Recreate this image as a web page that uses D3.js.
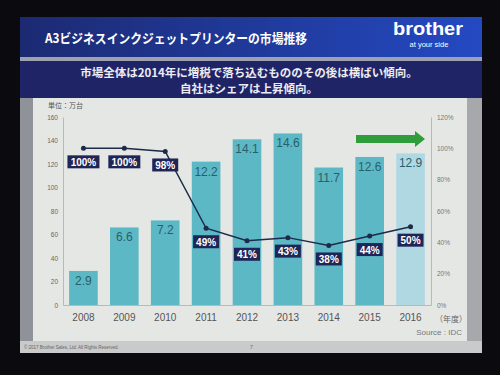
<!DOCTYPE html>
<html>
<head>
<meta charset="utf-8">
<script src="https://cdn.jsdelivr.net/npm/d3@7"></script>
<style>
  body { margin: 0; background: #0b0b0f; }
  svg { display: block; }
  text { font-family: "Liberation Sans", "Noto Sans CJK JP", sans-serif; }
  .jp { font-family: "Noto Sans CJK JP", sans-serif; }
</style>
</head>
<body>
<svg id="chart"></svg>
<script>
const width = 500;
const height = 375;

// data
const years = ["2008", "2009", "2010", "2011", "2012", "2013", "2014", "2015", "2016"];
const units = [2.9, 6.6, 7.2, 12.2, 14.1, 14.6, 11.7, 12.6, 12.9]; // 10万台
const share = [100, 100, 98, 49, 41, 43, 38, 44, 50]; // %
const leftTicks = [0, 20, 40, 60, 80, 100, 120, 140, 160];
const rightTicks = [0, 20, 40, 60, 80, 100, 120];

const svg = d3.select("#chart")
  .attr("width", width)
  .attr("height", height);

// slide background pieces
const defs = svg.append("defs");
const grad = defs.append("linearGradient").attr("id", "titleGrad");
grad.append("stop").attr("offset", "0%").attr("stop-color", "#1c2a72");
grad.append("stop").attr("offset", "100%").attr("stop-color", "#2449c2");

svg.append("rect").attr("x", 20).attr("y", 17).attr("width", 462).attr("height", 40).attr("fill", "url(#titleGrad)");
svg.append("rect").attr("x", 20).attr("y", 57).attr("width", 462).attr("height", 4).attr("fill", "#9ea2b0");
svg.append("rect").attr("x", 20).attr("y", 61).attr("width", 462).attr("height", 37).attr("fill", "#1f2466");
svg.append("rect").attr("x", 20).attr("y", 98).attr("width", 13).attr("height", 243).attr("fill", "#8f9298");
svg.append("rect").attr("x", 33).attr("y", 98).attr("width", 434).attr("height", 243).attr("fill", "#e5e7e5");
svg.append("rect").attr("x", 467).attr("y", 98).attr("width", 15).attr("height", 243).attr("fill", "#a6a8ac");
svg.append("rect").attr("x", 20).attr("y", 341).attr("width", 462).attr("height", 12).attr("fill", "#c8cacb");

// titles
svg.append("text").attr("class", "jp")
  .attr("x", 45).attr("y", 43)
  .attr("fill", "#ffffff").attr("font-size", 13).attr("font-weight", "bold")
  .attr("textLength", 262).attr("lengthAdjust", "spacingAndGlyphs")
  .text("A3ビジネスインクジェットプリンターの市場推移");

svg.append("text")
  .attr("x", 428).attr("y", 35).attr("text-anchor", "middle")
  .attr("fill", "#ffffff").attr("font-size", 19).attr("font-weight", "bold")
  .attr("font-family", "DejaVu Sans")
  .attr("textLength", 70).attr("lengthAdjust", "spacingAndGlyphs")
  .text("brother");
svg.append("text")
  .attr("x", 429).attr("y", 47).attr("text-anchor", "middle")
  .attr("fill", "#ffffff").attr("font-size", 7.5)
  .text("at your side");

svg.append("text").attr("class", "jp")
  .attr("x", 249).attr("y", 77).attr("text-anchor", "middle")
  .attr("fill", "#ececf2").attr("font-size", 11.5).attr("font-weight", "bold")
  .text("市場全体は2014年に増税で落ち込むもののその後は横ばい傾向。");
svg.append("text").attr("class", "jp")
  .attr("x", 249).attr("y", 93).attr("text-anchor", "middle")
  .attr("fill", "#ececf2").attr("font-size", 11.5).attr("font-weight", "bold")
  .text("自社はシェアは上昇傾向。");

// scales
const x = d3.scaleBand()
  .domain(years)
  .range([63, 431])
  .paddingInner(0.3)
  .paddingOuter(0.15);

const yLeft = d3.scaleLinear().domain([0, 160]).range([305, 117]);
const yRight = d3.scaleLinear().domain([0, 120]).range([305, 117]);

// axes
const leftAxis = svg.append("g")
  .attr("transform", "translate(63,0)")
  .call(d3.axisLeft(yLeft).tickValues(leftTicks).tickSize(0).tickPadding(5));
leftAxis.select(".domain").attr("stroke", "#b8bab8");
leftAxis.selectAll("text").attr("fill", "#666").attr("font-size", 6.5);

const rightAxis = svg.append("g")
  .attr("transform", "translate(431,0)")
  .call(d3.axisRight(yRight).tickValues(rightTicks).tickSize(0).tickPadding(6).tickFormat(d => d + "%"));
rightAxis.select(".domain").attr("stroke", "#b8bab8");
rightAxis.selectAll("text").attr("fill", "#777").attr("font-size", 6.5);

const bottomAxis = svg.append("g")
  .attr("transform", "translate(0,305)")
  .call(d3.axisBottom(x).tickSize(0).tickPadding(9));
bottomAxis.select(".domain").attr("stroke", "#b8bab8");
bottomAxis.selectAll("text").attr("fill", "#555").attr("font-size", 10);

svg.append("text").attr("class", "jp")
  .attr("x", 48).attr("y", 108)
  .attr("fill", "#555").attr("font-size", 7)
  .text("単位：万台");

svg.append("text").attr("class", "jp")
  .attr("x", 451).attr("y", 322).attr("text-anchor", "middle")
  .attr("fill", "#666").attr("font-size", 8)
  .text("（年度）");

svg.append("text")
  .attr("x", 462).attr("y", 335).attr("text-anchor", "end")
  .attr("fill", "#777").attr("font-size", 8)
  .text("Source : IDC");

// bars
svg.append("g")
  .selectAll("rect")
  .data(units)
  .enter().append("rect")
  .attr("x", (d, i) => x(years[i]))
  .attr("y", d => yLeft(d * 10))
  .attr("width", x.bandwidth())
  .attr("height", d => yLeft(0) - yLeft(d * 10))
  .attr("fill", (d, i) => i === years.length - 1 ? "#b0d8e2" : "#5cb8c4");

svg.append("g")
  .selectAll("text")
  .data(units)
  .enter().append("text")
  .attr("x", (d, i) => x(years[i]) + x.bandwidth() / 2)
  .attr("y", d => yLeft(d * 10) + 14)
  .attr("text-anchor", "middle")
  .attr("fill", "#2a5e6a")
  .attr("font-size", 12)
  .text(d => d.toFixed(1));

// green arrow
const ax0 = 356, ax1 = 425, ay = 139;
svg.append("path")
  .attr("d", `M${ax0},${ay - 4}H${ax1 - 10}V${ay - 8}L${ax1},${ay}L${ax1 - 10},${ay + 8}V${ay + 4}H${ax0}Z`)
  .attr("fill", "#2f9e3a");

// share line
const cx = (d, i) => x(years[i]) + x.bandwidth() / 2;
const line = d3.line()
  .x(cx)
  .y(d => yRight(d));

svg.append("path")
  .datum(share)
  .attr("d", line)
  .attr("fill", "none")
  .attr("stroke", "#1d2b4a")
  .attr("stroke-width", 1.5);

svg.append("g")
  .selectAll("circle")
  .data(share)
  .enter().append("circle")
  .attr("cx", cx)
  .attr("cy", d => yRight(d))
  .attr("r", 2.5)
  .attr("fill", "#1d2b4a");

const labels = svg.append("g")
  .selectAll("g")
  .data(share)
  .enter().append("g")
  .attr("transform", (d, i) => `translate(${cx(d, i)},${yRight(d) + 14})`);

labels.append("rect")
  .attr("x", d => d === 100 ? -16 : -13)
  .attr("y", -7)
  .attr("width", d => d === 100 ? 32 : 26)
  .attr("height", 13)
  .attr("fill", "#1f2557");

labels.append("text")
  .attr("text-anchor", "middle")
  .attr("y", 3.5)
  .attr("fill", "#ffffff")
  .attr("font-size", 10)
  .attr("font-weight", "bold")
  .text(d => d + "%");

// footer
svg.append("text")
  .attr("x", 24).attr("y", 349)
  .attr("fill", "#666").attr("font-size", 4.5)
  .text("© 2017 Brother Sales, Ltd. All Rights Reserved.");
svg.append("text")
  .attr("x", 250).attr("y", 349)
  .attr("fill", "#666").attr("font-size", 5)
  .text("7");
</script>
</body>
</html>
